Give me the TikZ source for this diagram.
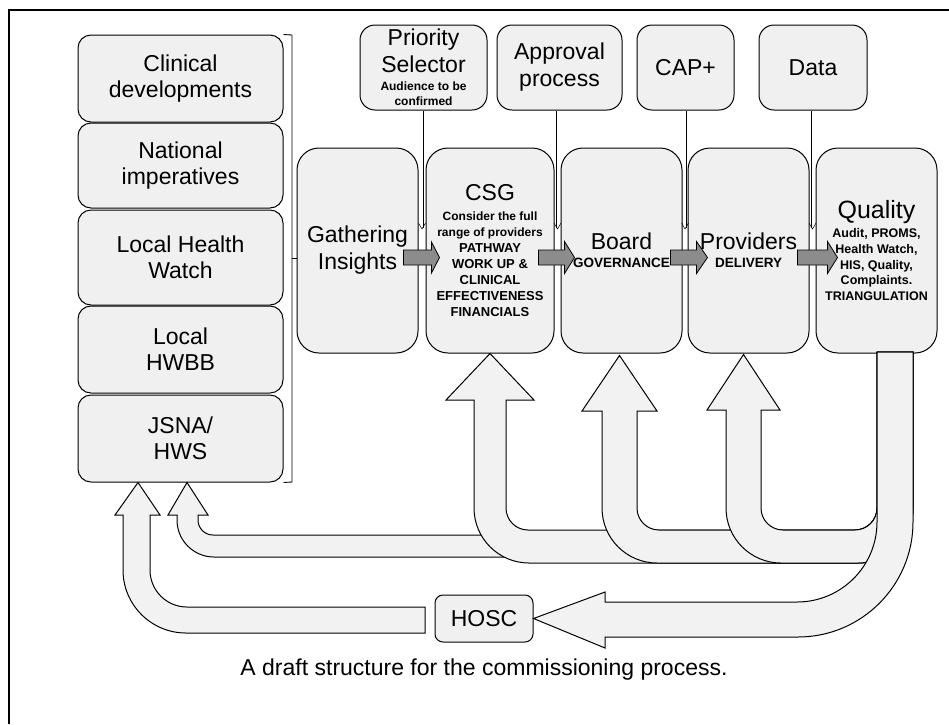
\documentclass[tikz,border=0pt]{standalone}
\usepackage{fontspec}
\setmainfont{Liberation Sans}
\usetikzlibrary{calc}
\newcommand\fbig{\fontsize{23}{27}\selectfont\mdseries}
\newcommand\fleft{\fontsize{23}{26}\selectfont}
\newcommand\fsb{\fontsize{12}{16}\selectfont\bfseries}
\newcommand\fcaps{\fontsize{13}{16}\selectfont\bfseries}
\newcommand\fmid{\fontsize{13.5}{16}\selectfont\bfseries}
\newcommand\fqs{\fontsize{12.5}{15.7}\selectfont\bfseries}
\newcommand\blockarr[4]{%
 \draw[blk] ($(#1)+(0,-7.5)$) -- ($(#2)+(-#3,-7.5)$) -- ($(#2)+(-#3,-#4)$) -- (#2) -- ($(#2)+(-#3,#4)$) -- ($(#2)+(-#3,7.5)$) -- ($(#1)+(0,7.5)$) -- cycle;}
\newcommand\uturn[6]{%
 \draw[fat] (#1) -- (#5,#6) -- (#3,#6) -- (#3,508) .. controls (#3,520.14) and (#3+9.86,530) .. (#3+22,530) -- (855,530) .. controls (867.14,530) and (877,520.14) .. (877,508) -- (877,352) -- (913,352) -- (913,508) .. controls (913,538.36) and (888.36,563) .. (858,563) -- (#2+55,563) .. controls (#2+24.64,563) and (#2,538.36) .. (#2,508) -- (#2,#6) -- (#4,#6) -- cycle;}
\begin{document}
\begin{tikzpicture}[x=1pt,y=-1pt,
  box/.style={draw=black, line width=1pt, fill=black!6, align=center, inner sep=0pt},
  lbox/.style={box, rounded corners=13pt, minimum width=205pt, font=\fleft},
  tbox/.style={box, rounded corners=15pt, minimum height=85pt, font=\fbig},
  mbox/.style={box, rounded corners=22pt, minimum width=121pt, minimum height=205pt, font=\fbig},
  blk/.style={draw=black, line width=0.8pt, fill=black!45},
  fat/.style={draw=black, line width=1pt, fill=black!5},
  dbl/.style={double, double distance=2pt, line width=0.5pt},
  tipv/.style={line width=0.5pt},
]
\useasboundingbox (0,0) rectangle (949,724);
\draw[line width=2pt] (9,724) -- (9,10) -- (949,10);

% left column
\node[lbox, minimum height=87pt] (cd) at (180.5,78.5) {Clinical\\developments};
\node[lbox, minimum height=85pt] (ni) at (180.5,165.5) {National\\imperatives};
\node[lbox, minimum height=95pt] (lhw) at (180.5,257.5) {Local Health\\Watch};
\node[lbox, minimum height=87pt] (hwbb) at (180.5,349.5) {Local\\HWBB};
\node[lbox, minimum height=87pt] (jsna) at (180.5,438.5) {JSNA/\\HWS};

% bracket
\coordinate (brt) at (292,35);
\coordinate (brb) at (292,482);
\coordinate (brm) at (292,258);
\coordinate (brp) at (300,258);
\draw[line width=0.9pt] (cd.north east) -- (brt) -- (brb) -- (jsna.south east);
\draw[line width=0.9pt] (brm) -- (brp);

% top boxes
\node[tbox, minimum width=127pt] (ps) at (423.5,67.5) {Priority\\Selector\\[-9pt]{\fsb Audience to be}\\[-12pt]{\fsb confirmed}};
\node[tbox, minimum width=125pt] (ap) at (559.5,67.5) {Approval\\process};
\node[tbox, minimum width=97pt] (cap) at (685.5,67.5) {CAP+};
\node[tbox, minimum width=108pt] (data) at (813,67.5) {Data};

% main row
\node[mbox] (gi) at (357.5,250.5) {Gathering\\Insights};
\node[mbox, minimum width=128pt, font=\fsb] (csg) at (490,250.5) {{\fbig CSG}\\[4pt]Consider the full\\range of providers\\{\fcaps PATHWAY}\\{\fcaps WORK UP \&}\\{\fcaps CLINICAL}\\{\fcaps EFFECTIVENESS}\\{\fcaps FINANCIALS}};
\node[mbox] (board) at (621.5,250.5) {Board\\[-9pt]{\fmid GOVERNANCE}};
\node[mbox] (prov) at (748.5,250.5) {Providers\\[-9pt]{\fmid DELIVERY}};
\node[mbox, font=\fqs] (qual) at (876.5,250.5) {{\fontsize{25}{15.7}\selectfont\mdseries Quality}\\[3.3pt]Audit, PROMS,\\Health Watch,\\HIS, Quality,\\Complaints.\\TRIANGULATION};

% connectors from top boxes
\coordinate (psend) at (422,228);
\coordinate (apend) at (557.5,228);
\coordinate (capend) at (685,228);
\coordinate (dataend) at (812.5,228);
\foreach \b/\e in {ps/psend, ap/apend, cap/capend, data/dataend}{
  \draw[dbl] (\e |- \b.south) -- (\e);
  \draw[tipv] ($(\e)+(-3.5,-5)$) -- ($(\e)+(0,1)$) -- ($(\e)+(3.5,-5)$);
}

% block arrows between main boxes
\coordinate (a1s) at ($(gi.east)+(-15,7)$);   \coordinate (a1t) at ($(csg.west)+(14,7)$);
\coordinate (a2s) at ($(csg.east)+(-16,7)$);  \coordinate (a2t) at ($(board.west)+(14,7)$);
\coordinate (a3s) at ($(board.east)+(-12,7)$); \coordinate (a3t) at ($(prov.west)+(20,7)$);
\coordinate (a4s) at ($(prov.east)+(-12,7)$);  \coordinate (a4t) at ($(qual.west)+(22,7)$);
\blockarr{a1s}{a1t}{8}{15.5}
\blockarr{a2s}{a2t}{10}{16}
\blockarr{a3s}{a3t}{11}{16}
\blockarr{a4s}{a4t}{10}{16}

% HOSC
\node[box, rounded corners=8pt, minimum width=98pt, minimum height=47pt, font=\fbig] (hosc) at (484,618.5) {HOSC};

% feedback arrows
\coordinate (tjin) at ($(jsna.south)+(6.5,0)$);
\coordinate (tjout) at ($(jsna.south)+(-42.5,0)$);
\coordinate (tcsg) at (csg.south);
\coordinate (tboard) at ($(board.south)+(-2,2)$);
\coordinate (tprov) at ($(prov.south)+(-5,1)$);

\draw[fat] (tjin) -- (208,515) -- (198,515) -- (198,520) .. controls (198,528.28) and (204.72,535) .. (213,535) -- (560,535) -- (560,557) -- (214,557) .. controls (193.58,557) and (177,540.42) .. (177,520) -- (177,515) -- (168,515) -- cycle;
\uturn{tcsg}{474}{506}{446}{534}{400}
\uturn{tboard}{602}{637}{582}{657}{411}
\uturn{tprov}{726}{761}{707}{780}{410}
\draw[fat] (877,352) -- (877,522) .. controls (877,566.16) and (841.16,602) .. (797,602) -- (605,602) -- (605,592) -- (hosc.east) -- (605,648) -- (605,637) -- (798,637) .. controls (861.48,637) and (913,585.48) .. (913,522) -- (913,352) -- cycle;
\draw[fat] (tjout) -- (160,515) -- (150,515) -- (150,570) .. controls (150,590.42) and (166.58,607) .. (187,607) -- (425,607) -- (425,633) -- (186,633) .. controls (151.22,633) and (123,604.78) .. (123,570) -- (123,515) -- (115,515) -- cycle;

% caption
\node[font=\fbig, anchor=base] (capt) at (484,675) {A draft structure for the commissioning process.};
\end{tikzpicture}
\end{document}
